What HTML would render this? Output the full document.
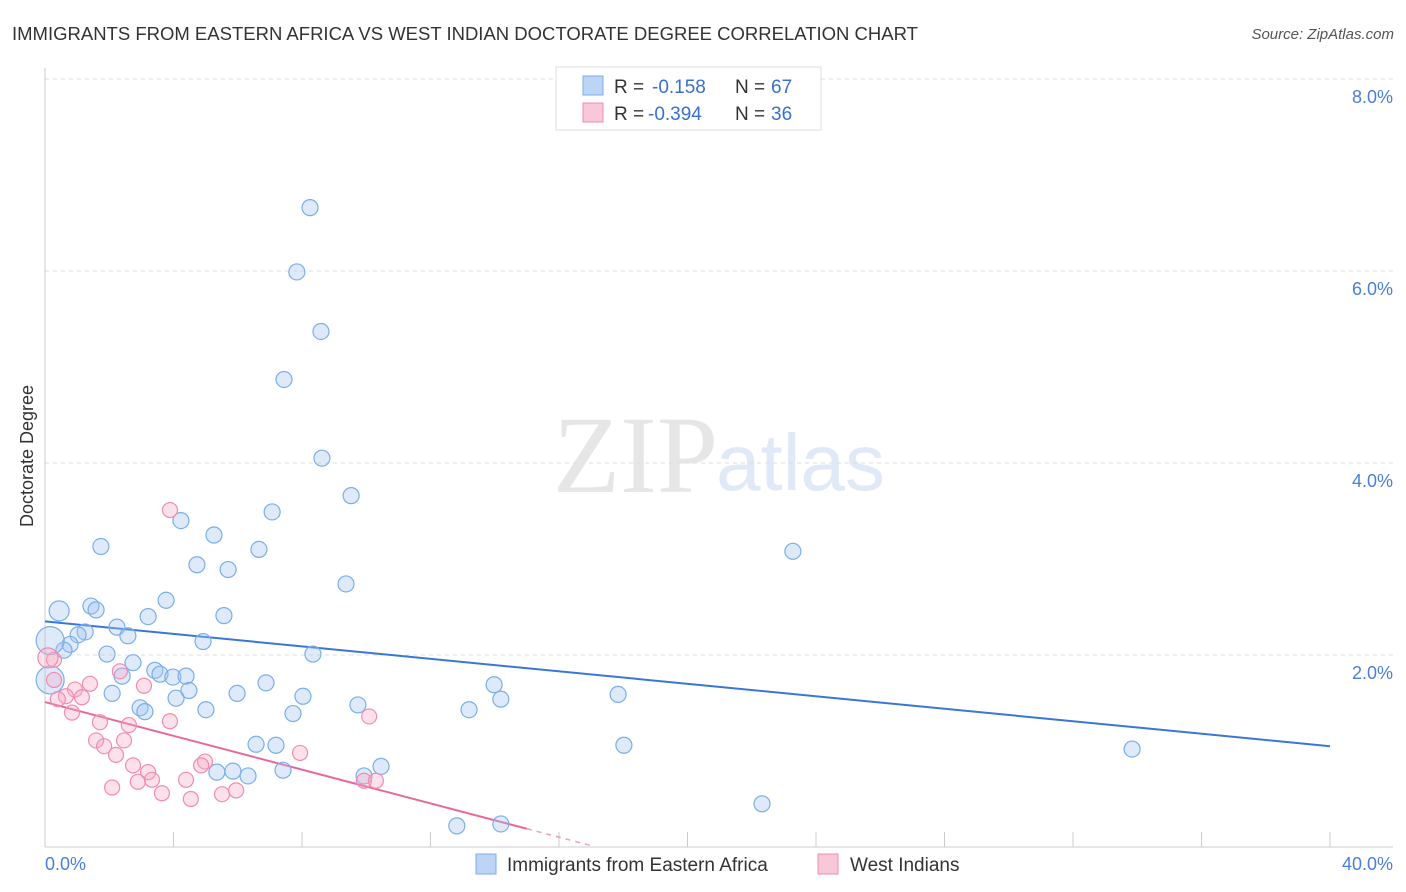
<!DOCTYPE html>
<html><head><meta charset="utf-8"><style>
body{margin:0;background:#fff;font-family:"Liberation Sans",sans-serif;}
svg{display:block}
</style></head><body>
<svg id="chart" width="1406" height="892" xmlns="http://www.w3.org/2000/svg">
<text x="12" y="40" font-size="18.5" fill="#333">IMMIGRANTS FROM EASTERN AFRICA VS WEST INDIAN DOCTORATE DEGREE CORRELATION CHART</text>
<text x="1394" y="39" font-size="15" fill="#555" text-anchor="end" font-style="italic">Source: ZipAtlas.com</text>
<g>
<text x="553" y="492" font-family="Liberation Serif,serif" font-size="110" fill="#e6e6e6">ZIP</text>
<text x="716" y="490" font-size="80" fill="#dfe9f7">atlas</text>
</g>
<g id="grid"></g>
<g id="axes"></g>
<g id="trends"></g>
<g id="pts"></g>
<text transform="translate(33,456) rotate(-90)" font-size="18" fill="#333" text-anchor="middle">Doctorate Degree</text>
<text x="45" y="870" font-size="18" fill="#4a7fd6">0.0%</text>
<text x="1393" y="870" font-size="18" fill="#4a7fd6" text-anchor="end">40.0%</text>
<g font-size="19">
<rect x="556" y="67" width="265" height="63" fill="#fff" stroke="#ddd"/>
<rect x="583" y="76" width="20" height="19" fill="#bcd4f5" stroke="#7aaee8"/>
<rect x="583" y="103" width="20" height="19" fill="#f9c8d8" stroke="#f08cb0"/>
<text x="614" y="93" fill="#333">R =</text><text x="652" y="93" fill="#3a6fd0">-0.158</text>
<text x="735" y="93" fill="#333">N =</text><text x="771" y="93" fill="#3a6fd0">67</text>
<text x="614" y="120" fill="#333">R =</text><text x="648" y="120" fill="#3a6fd0">-0.394</text>
<text x="735" y="120" fill="#333">N =</text><text x="771" y="120" fill="#3a6fd0">36</text>
</g>
<g>
<rect x="476" y="854" width="20" height="20" fill="#bcd4f5" stroke="#7aaee8"/>
<text x="507" y="871" font-size="19" fill="#333">Immigrants from Eastern Africa</text>
<rect x="818" y="854" width="20" height="20" fill="#f9c8d8" stroke="#f08cb0"/>
<text x="850" y="871" font-size="19" fill="#333">West Indians</text>
</g>
</svg>
<script>
const yTicks=[2,4,6,8];
const yTickLabels=["2.0%","4.0%","6.0%","8.0%"];
const xTicks=[0,4,8,12,16,20,24,28,32,36,40];
const blueX=[8.25,7.84,8.59,7.44,8.62,9.53,7.07,4.23,5.26,1.74,6.66,4.73,5.70,9.37,3.77,1.43,1.59,0.44,5.57,3.21,2.24,1.25,1.03,2.58,0.78,4.92,0.59,1.93,8.34,2.74,3.42,3.58,3.98,4.39,2.40,6.88,13.98,4.48,2.09,5.98,8.03,4.08,14.19,17.84,9.74,2.96,3.11,5.01,7.72,13.20,6.57,7.19,18.02,33.84,10.46,5.85,5.35,7.41,6.32,9.93,22.32,12.82,14.19,23.28,0.16,0.16];
const blueY=[6.66,5.99,5.37,4.87,4.05,3.66,3.49,3.40,3.25,3.13,3.10,2.94,2.89,2.74,2.57,2.51,2.47,2.46,2.41,2.40,2.29,2.24,2.21,2.20,2.11,2.14,2.05,2.01,2.01,1.92,1.84,1.80,1.77,1.78,1.78,1.71,1.69,1.63,1.60,1.60,1.57,1.55,1.54,1.59,1.48,1.45,1.41,1.43,1.39,1.43,1.07,1.06,1.06,1.02,0.84,0.79,0.78,0.80,0.74,0.74,0.45,0.22,0.24,3.08,2.15,1.74];
const blueR=[8,8,8,8,8,8,8,8,8,8,8,8,8,8,8,8,8,10,8,8,8,8,8,8,8,8,8,8,8,8,8,8,8,8,8,8,8,8,8,8,8,8,8,8,8,8,8,8,8,8,8,8,8,8,8,8,8,8,8,8,8,8,8,8,14,14];
const pinkX=[3.89,0.28,0.09,2.33,0.28,1.40,3.08,0.93,0.65,1.15,0.40,0.84,1.71,2.61,3.89,10.09,1.59,2.46,1.84,2.21,7.94,2.74,3.21,4.98,4.86,3.33,4.39,2.89,9.93,10.30,2.09,5.95,3.64,5.51,4.54];
const pinkY=[3.51,1.95,1.97,1.83,1.74,1.70,1.68,1.64,1.57,1.56,1.54,1.40,1.30,1.27,1.31,1.36,1.11,1.11,1.05,0.96,0.98,0.85,0.78,0.89,0.85,0.70,0.70,0.68,0.69,0.69,0.62,0.59,0.56,0.55,0.50];
const blueTrend=[2.35,1.05];
const pinkTrend=[1.51,0.19,15,17];
const NS="http://www.w3.org/2000/svg";
const X=v=>45+v/40*1285, Y=v=>847-v*96;
function mk(t,a,p){const e=document.createElementNS(NS,t);for(const k in a)e.setAttribute(k,a[k]);p.appendChild(e);return e;}
const grid=document.getElementById('grid'),axes=document.getElementById('axes');
yTicks.forEach((t,i)=>{
 const l=mk('line',{x1:45,x2:1393,y1:Y(t),y2:Y(t),stroke:'#ddd','stroke-dasharray':'4,4'},grid);
 
 
 const tx=mk('text',{x:1393,y:Y(t)+24,'font-size':18,fill:'#4a7fd6','text-anchor':'end'},axes);
 tx.textContent=yTickLabels[i];
 
 
});
mk('line',{x1:45,x2:1393,y1:847,y2:847,stroke:'#ccc'},axes);
mk('line',{x1:45,x2:45,y1:68,y2:847,stroke:'#ccc'},axes);
xTicks.forEach(t=>{const l=mk('line',{x1:X(t),x2:X(t),y1:832,y2:847,stroke:'#ccc'},axes);
 
 });
const tr=document.getElementById('trends');
const bl=mk('line',{x1:X(0),y1:Y(blueTrend[0]),x2:X(40),y2:Y(blueTrend[1]),stroke:'#3a76d8','stroke-width':2},tr);


const slope=(pinkTrend[1]-pinkTrend[0])/pinkTrend[2];
const pl=mk('line',{x1:X(0),y1:Y(pinkTrend[0]),x2:X(pinkTrend[2]),y2:Y(pinkTrend[1]),stroke:'#e8689a','stroke-width':2},tr);


const pd=mk('line',{x1:X(pinkTrend[2]),y1:Y(pinkTrend[1]),x2:X(pinkTrend[3]),y2:Y(pinkTrend[0]+slope*pinkTrend[3]),stroke:'#e8a0bc','stroke-width':1.5,'stroke-dasharray':'5,5'},tr);


const pts=document.getElementById('pts');
blueX.forEach((x,i)=>{const c=mk('circle',{cx:X(x),cy:Y(blueY[i]),r:blueR[i],fill:'rgba(160,195,240,0.35)',stroke:'#7aaee8','stroke-width':1.2},pts);
 
 });
pinkX.forEach((x,i)=>{const c=mk('circle',{cx:X(x),cy:Y(pinkY[i]),r:i==2?10:7.5,fill:'rgba(245,170,195,0.35)',stroke:'#f08cb0','stroke-width':1.2},pts);
 
 });
</script>
</body></html>
